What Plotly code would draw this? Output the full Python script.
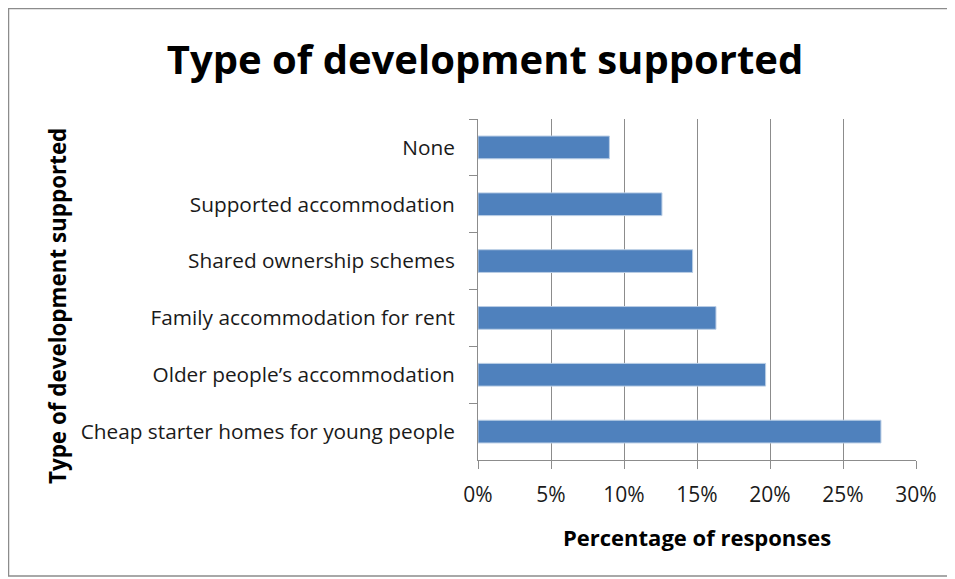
import plotly.graph_objects as go

categories = [
    "None",
    "Supported accommodation",
    "Shared ownership schemes",
    "Family accommodation for rent",
    "Older people\u2019s accommodation",
    "Cheap starter homes for young people",
]
values = [9.0, 12.6, 14.7, 16.3, 19.7, 27.6]
x_ticks = [0, 5, 10, 15, 20, 25, 30]
x_tick_labels = ["0%", "5%", "10%", "15%", "20%", "25%", "30%"]

# page body adds an 8px offset; figure coordinates are screen - 8
OFF = 8
W, H = 955 - OFF, 579 - OFF
L, T = 478 - OFF, 119 - OFF
R = W - (916 - OFF)
B = H - (460 - OFF)
pw, ph = W - L - R, H - T - B


def px_x(sx):
    return (sx - OFF - L) / pw


def px_y(sy):
    return (H - B - (sy - OFF)) / ph


font_family = "'Open Sans', sans-serif"

fig = go.Figure(
    go.Bar(
        x=values,
        y=categories,
        orientation="h",
        width=0.4,
        marker=dict(color="#4F81BD", line=dict(color="#B9CDE5", width=1)),
    )
)

fig.update_layout(
    width=W,
    height=H,
    margin=dict(l=L, r=R, t=T, b=B),
    paper_bgcolor="white",
    plot_bgcolor="white",
    showlegend=False,
    font=dict(family=font_family, color="#1a1a1a"),
    title=dict(
        text="<b>Type of development supported</b>",
        x=(485 - OFF) / W,
        xanchor="center",
        y=1 - (60 - OFF) / H,
        yanchor="middle",
        font=dict(size=40, color="black", family=font_family),
    ),
    shapes=[
        dict(
            type="rect",
            xref="paper",
            yref="paper",
            x0=px_x(OFF + 0.5),
            x1=px_x(951),
            y0=px_y(576),
            y1=px_y(OFF + 0.5),
            line=dict(color="#8C8C8C", width=1.5),
            fillcolor="rgba(0,0,0,0)",
            layer="below",
        )
    ],
    annotations=[
        dict(
            text="<b>Percentage of responses</b>",
            xref="paper",
            yref="paper",
            x=px_x(697),
            y=px_y(537),
            xanchor="center",
            yanchor="middle",
            showarrow=False,
            font=dict(size=22, color="black", family=font_family),
        ),
        dict(
            text="<b>Type of development supported</b>",
            xref="paper",
            yref="paper",
            x=px_x(57),
            y=px_y(306),
            xanchor="center",
            yanchor="middle",
            textangle=-90,
            showarrow=False,
            font=dict(size=22.4, color="black", family=font_family),
        ),
    ],
)

fig.update_xaxes(
    range=[0, 30],
    tickvals=x_ticks,
    ticktext=x_tick_labels,
    showgrid=True,
    gridcolor="#8C8C8C",
    gridwidth=1,
    zeroline=False,
    showline=True,
    linecolor="#8C8C8C",
    linewidth=1,
    ticks="outside",
    ticklen=8,
    tickcolor="#8C8C8C",
    tickfont=dict(size=21, color="#1a1a1a"),
    ticklabelstandoff=8,
)

fig.update_yaxes(
    categoryorder="array",
    categoryarray=categories,
    autorange="reversed",
    showgrid=False,
    zeroline=False,
    showline=True,
    linecolor="#8C8C8C",
    linewidth=1,
    ticks="outside",
    tickson="boundaries",
    ticklen=8,
    tickcolor="#8C8C8C",
    tickfont=dict(size=20.8, color="#1a1a1a"),
    ticklabelstandoff=18,
)

fig.write_html("out.html")
